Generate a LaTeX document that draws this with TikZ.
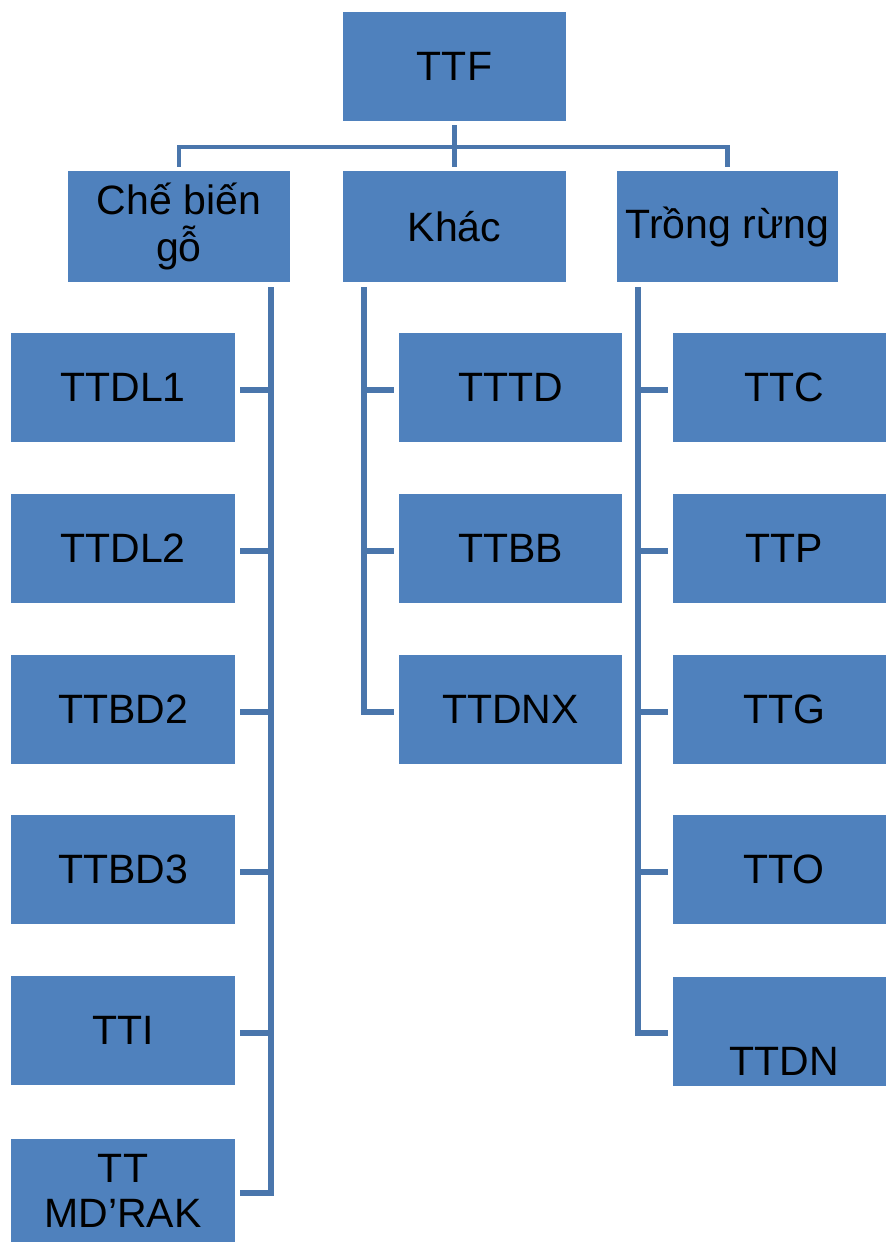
\documentclass[tikz,border=0pt]{standalone}
\usepackage{fontspec}
\setmainfont{Liberation Sans}
\begin{document}
\begin{tikzpicture}[x=1pt,y=-1pt,
  box/.style={draw=none,fill=boxblue,minimum width=224pt,minimum height=109pt,inner sep=0pt,
    font=\fontsize{41}{45}\selectfont,align=center,text=black},
  lbl/.style={inner sep=0pt,font=\fontsize{41}{45}\selectfont,text=black},
  conn/.style={draw=lineblue,line width=6pt},
  topconn/.style={draw=lineblue,line width=4.5pt}]
\definecolor{boxblue}{HTML}{4F81BD}
\definecolor{lineblue}{HTML}{4A76AC}
\useasboundingbox (0,0) rectangle (886,1242);
% level 0
\node[box,minimum width=223pt] (ttf) at (454.5,66.5) {TTF};
% level 1
\node[box,minimum width=222pt,minimum height=111pt] (che) at (179,226.5) {Chế biến\\[2pt]gỗ};
\node[box,minimum width=223pt,minimum height=111pt] (khac) at (454.5,226.5) {Khác};
\node[box,minimum width=221pt,minimum height=111pt] (trong) at (727.5,226.5) {Trồng rừng};
% left column
\node[box] (l1) at (123,387.5) {TTDL1};
\node[box] (l2) at (123,548.5) {TTDL2};
\node[box] (l3) at (123,709.5) {TTBD2};
\node[box] (l4) at (123,869.5) {TTBD3};
\node[box] (l5) at (123,1030.5) {TTI};
\node[box,minimum height=103pt] (l6) at (123,1190.5) {TT\\MD’RAK};
% middle column
\node[box,minimum width=223pt] (m1) at (510.5,387.5) {TTTD};
\node[box,minimum width=223pt] (m2) at (510.5,548.5) {TTBB};
\node[box,minimum width=223pt] (m3) at (510.5,709.5) {TTDNX};
% right column
\node[box,minimum width=213pt] (r1) at (779.5,387.5) {};
\node[lbl] at (784,387.5) {TTC};
\node[box,minimum width=213pt] (r2) at (779.5,548.5) {};
\node[lbl] at (784,548.5) {TTP};
\node[box,minimum width=213pt] (r3) at (779.5,709.5) {};
\node[lbl] at (784,709.5) {TTG};
\node[box,minimum width=213pt] (r4) at (779.5,869.5) {};
\node[lbl] at (784,869.5) {TTO};
\node[box,minimum width=213pt] (r5) at (779.5,1031.5) {};
\node[lbl,anchor=base] at (784,1075) {TTDN};
% top connectors
\coordinate (bar) at (454.5,147);
\draw[topconn] ([yshift=-4pt]ttf.south) -- ([yshift=4pt]khac.north);
\draw[topconn] ([yshift=4pt]che.north) |- (bar) -| ([yshift=4pt]trong.north);
% column verticals
\coordinate (lc) at (271,287);
\coordinate (mc) at (364,287);
\coordinate (rc) at (638,287);
\draw[conn] (lc) |- ([xshift=5pt,yshift=-2pt]l6.east);
\foreach \n in {l1,l2,l3,l4,l5}
  \draw[conn] ([xshift=5pt,yshift=-2pt]\n.east) -- ++(31,0);
\draw[conn] (mc) |- ([xshift=-5pt,yshift=-2pt]m3.west);
\foreach \n in {m1,m2}
  \draw[conn] ([xshift=-5pt,yshift=-2pt]\n.west) -- ++(-30,0);
\draw[conn] (rc) |- ([xshift=-5pt,yshift=-1pt]r5.west);
\foreach \n in {r1,r2,r3,r4}
  \draw[conn] ([xshift=-5pt,yshift=-2pt]\n.west) -- ++(-30,0);
\end{tikzpicture}
\end{document}
